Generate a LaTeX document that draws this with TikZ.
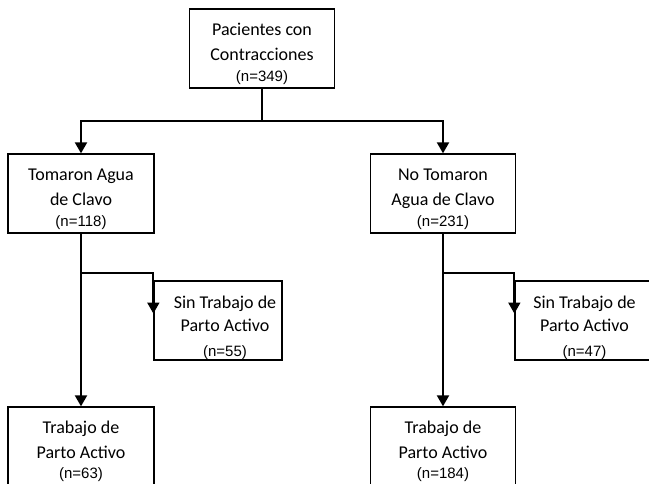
\documentclass[tikz,border=0pt]{standalone}
\usepackage{fontspec}
\setmainfont{Carlito}
\newfontfamily\nfont{Liberation Sans}
\usetikzlibrary{arrows.meta}
\tikzset{
  box/.style={draw, line width=1.3pt, inner sep=0pt, minimum height=79pt},
  ln/.style={inner sep=0pt, anchor=base, font=\fontsize{18}{22}\selectfont},
  nl/.style={inner sep=0pt, anchor=base, font=\nfont\fontsize{15}{18}\selectfont},
  conn/.style={line width=2pt},
  arr/.style={conn, -{Triangle[length=11pt,width=12pt]}}
}
% #1 name, #2 x, #3 box top y, #4 #5 #6 offsets, #7 line1, #8 line2, #9 n
\newcommand\boxlines[9]{%
  \node[ln] (#1a) at (#2,#3+#4) {#7};
  \node[ln] (#1b) at (#2,#3+#5) {#8};
  \node[nl] (#1c) at (#2,#3+#6) {#9};
}
\begin{document}
\begin{tikzpicture}[x=1pt,y=-1pt]
\useasboundingbox (0,0) rectangle (649,483);
\clip (0,0) rectangle (649,483);
% boxes
\node[box, minimum width=145pt] (top) at (262,48.5) {};
\node[box, minimum width=146pt] (L) at (81,193.5) {};
\node[box, minimum width=145pt] (R) at (443,193.5) {};
\node[box, minimum width=128pt] (sinL) at (218,320.5) {};
\node[box, minimum width=146pt] (sinR) at (588,320.5) {};
\node[box, minimum width=146pt] (botL) at (81,446.5) {};
\node[box, minimum width=145pt] (botR) at (443,446.5) {};
% texts
\boxlines{t}{262}{9}{26}{51}{72}{Pacientes con}{Contracciones}{(n=349)}
\boxlines{l}{81}{154}{26}{51}{72}{Tomaron Agua}{de Clavo}{(n=118)}
\boxlines{r}{443}{154}{26}{51}{72}{No Tomaron}{Agua de Clavo}{(n=231)}
\boxlines{sl}{225}{281}{27}{50}{75}{Sin Trabajo de}{Parto Activo}{(n=55)}
\boxlines{sr}{584.5}{281}{27}{50}{75}{Sin Trabajo de}{Parto Activo}{(n=47)}
\boxlines{bl}{81}{407}{26}{51}{71}{Trabajo de}{Parto Activo}{(n=63)}
\boxlines{br}{443}{407}{26}{51}{71}{Trabajo de}{Parto Activo}{(n=184)}
% connectors
\coordinate (s0) at (262,121);
\coordinate (bL) at (81,273);
\coordinate (bR) at (443,273);
\draw[conn] (top.south) -- (s0);
\draw[arr] (s0) -| (L.north);
\draw[arr] (s0) -| (R.north);
\draw[arr] (L.south) -- (botL.north);
\draw[arr] (R.south) -- (botR.north);
\draw[arr] (bL) -| ([yshift=7pt]sinL.west);
\draw[arr] (bR) -| ([yshift=7pt]sinR.west);
\end{tikzpicture}
\end{document}
